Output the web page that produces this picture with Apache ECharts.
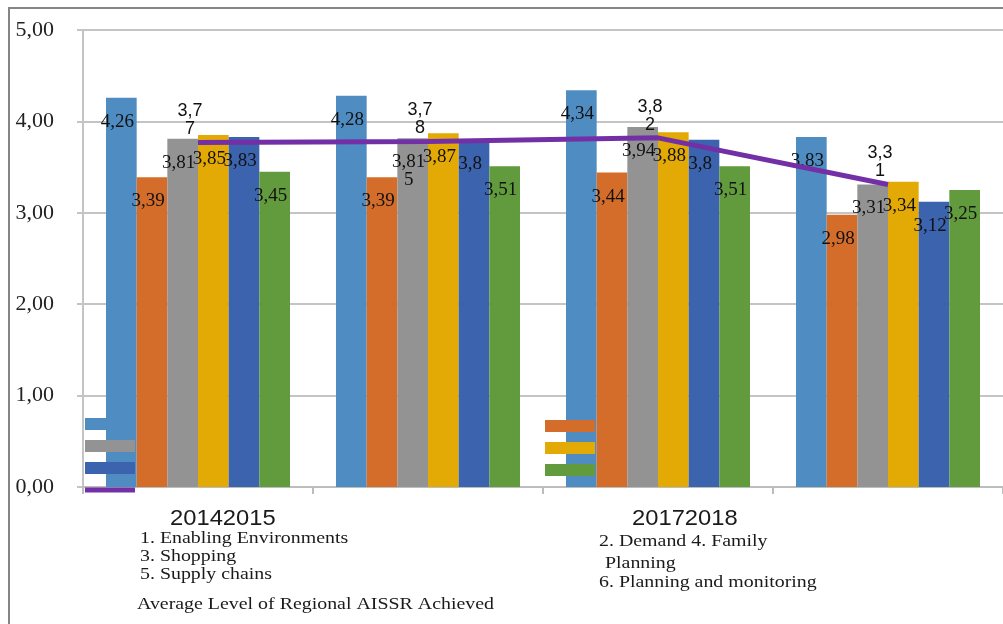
<!DOCTYPE html>
<html>
<head>
<meta charset="utf-8">
<script src="https://cdn.jsdelivr.net/npm/echarts@6/dist/echarts.min.js"></script>
<style>
  html, body { margin: 0; padding: 0; background: #fff; }
  #chart { width: 1003px; height: 624px; }
</style>
</head>
<body>
<div id="chart"></div>
<script>
// Regional AISSR levels by year and dimension
const years = ['2014', '2015', '2017', '2018'];
const yearLabels = ['20142015', '20172018'];
const yTicks = [0, 1, 2, 3, 4, 5];

const seriesNames = [
  '1. Enabling Environments',
  '2. Demand',
  '3. Shopping',
  '4. Family Planning',
  '5. Supply chains',
  '6. Planning and monitoring'
];
const averageName = 'Average Level of Regional AISSR Achieved';

const enabling   = [4.26, 4.28, 4.34, 3.83];
const demand     = [3.39, 3.39, 3.44, 2.98];
const shopping   = [3.81, 3.815, 3.94, 3.31];
const family     = [3.85, 3.87, 3.88, 3.34];
const supply     = [3.83, 3.8, 3.8, 3.12];
const planning   = [3.45, 3.51, 3.51, 3.25];
const average    = [3.77, 3.78, 3.82, 3.31];

const colors = ['#4f8cc2', '#d46d29', '#939393', '#e3a905', '#3b63ae', '#629b3d'];
const avgColor = '#7330a6';

const serif = '"Liberation Serif", "DejaVu Serif", serif';
const sans = '"Liberation Sans", Arial, sans-serif';

const commaNum = v => String(v).replace('.', ',');
// bar labels wrap after four characters, line labels after three
const barLabel = p => {
  const s = commaNum(p.value);
  return s.length > 4 ? s.slice(0, 4) + '\n' + s.slice(4) : s;
};
const lineLabel = p => {
  const s = commaNum(p.value);
  return s.slice(0, 3) + '\n' + s.slice(3);
};

const barData = [enabling, demand, shopping, family, supply, planning];

const barSeries = barData.map((d, i) => ({
  name: seriesNames[i],
  type: 'bar',
  data: d,
  barGap: 0,
  barCategoryGap: '20%',
  itemStyle: { color: colors[i] },
  label: {
    show: true,
    position: 'insideTop',
    offset: [-4, 10],
    formatter: barLabel,
    fontFamily: serif,
    fontSize: 19,
    lineHeight: 18,
    color: '#111',
    textBorderWidth: 0
  }
}));

const lineSeries = {
  name: averageName,
  type: 'line',
  data: average,
  z: 3,
  symbol: 'circle',
  symbolSize: 0.1,
  showSymbol: true,
  lineStyle: { color: avgColor, width: 5 },
  itemStyle: { color: avgColor },
  label: {
    show: true,
    position: 'top',
    distance: 4,
    offset: [-8, 0],
    formatter: lineLabel,
    fontFamily: sans,
    fontSize: 18,
    lineHeight: 18,
    color: '#111',
    textBorderWidth: 0
  }
};

const legendTextLeft = [seriesNames[0], seriesNames[2], seriesNames[4]];
const legendFont = '17px ' + serif;
const stretch = 1.17;

const chart = echarts.init(document.getElementById('chart'), null, { renderer: 'canvas' });

chart.setOption({
  backgroundColor: '#ffffff',
  animation: false,
  grid: { left: 83, right: 0, top: 30, bottom: 137, containLabel: false },
  xAxis: {
    type: 'category',
    data: years,
    axisLabel: { show: false },
    axisLine: { lineStyle: { color: '#bdbdbd', width: 2 } },
    axisTick: { show: true, length: 7, lineStyle: { color: '#bdbdbd', width: 2 } }
  },
  yAxis: {
    type: 'value',
    min: yTicks[0],
    max: yTicks[yTicks.length - 1],
    interval: 1,
    axisLine: { show: true, lineStyle: { color: '#c4c4c4', width: 2 } },
    axisTick: { show: true, length: 6, lineStyle: { color: '#c4c4c4', width: 2 } },
    splitLine: { lineStyle: { color: '#c4c4c4', width: 2 } },
    axisLabel: {
      margin: 29,
      formatter: v => v.toFixed(2).replace('.', ','),
      fontFamily: serif,
      fontSize: 22,
      color: '#222'
    }
  },
  legend: [
    {
      orient: 'vertical',
      left: 85,
      top: 418,
      itemWidth: 50,
      itemHeight: 12,
      itemGap: 10,
      padding: 0,
      symbolKeepAspect: true,
      formatter: () => '',
      data: [
        { name: seriesNames[0], icon: 'rect' },
        { name: seriesNames[2], icon: 'rect' },
        { name: seriesNames[4], icon: 'rect' },
        // thick purple stroke for the average line
        { name: averageName, icon: 'path://M0,0H50V5H0Z', itemStyle: { color: avgColor } }
      ]
    },
    {
      orient: 'vertical',
      left: 545,
      top: 420,
      itemWidth: 50,
      itemHeight: 12,
      itemGap: 10,
      padding: 0,
      formatter: () => '',
      data: [
        { name: seriesNames[1], icon: 'rect' },
        { name: seriesNames[3], icon: 'rect' },
        { name: seriesNames[5], icon: 'rect' }
      ]
    }
  ],
  graphic: [
    {
      type: 'rect',
      shape: { x: 9, y: 8, width: 1010, height: 630 },
      style: { fill: 'none', stroke: '#858585', lineWidth: 2 },
      silent: true
    },
    {
      type: 'text', x: 170, y: 508, scaleX: 1.08,
      style: { text: yearLabels[0], font: '22px ' + sans, fill: '#1a1a1a' }
    },
    {
      type: 'text', x: 632, y: 508, scaleX: 1.08,
      style: { text: yearLabels[1], font: '22px ' + sans, fill: '#1a1a1a' }
    },
    {
      type: 'text', x: 140, y: 530, scaleX: stretch,
      style: { text: legendTextLeft.join('\n'), font: legendFont, lineHeight: 18, fill: '#1a1a1a' }
    },
    {
      type: 'text', x: 137, y: 596, scaleX: stretch,
      style: { text: averageName, font: legendFont, fill: '#1a1a1a' }
    },
    {
      type: 'text', x: 599, y: 533, scaleX: stretch,
      style: { text: '2. Demand 4. Family', font: legendFont, fill: '#1a1a1a' }
    },
    {
      type: 'text', x: 605, y: 555, scaleX: stretch,
      style: { text: 'Planning', font: legendFont, fill: '#1a1a1a' }
    },
    {
      type: 'text', x: 599, y: 574, scaleX: stretch,
      style: { text: seriesNames[5], font: legendFont, fill: '#1a1a1a' }
    }
  ],
  series: [...barSeries, lineSeries]
});
</script>
</body>
</html>
